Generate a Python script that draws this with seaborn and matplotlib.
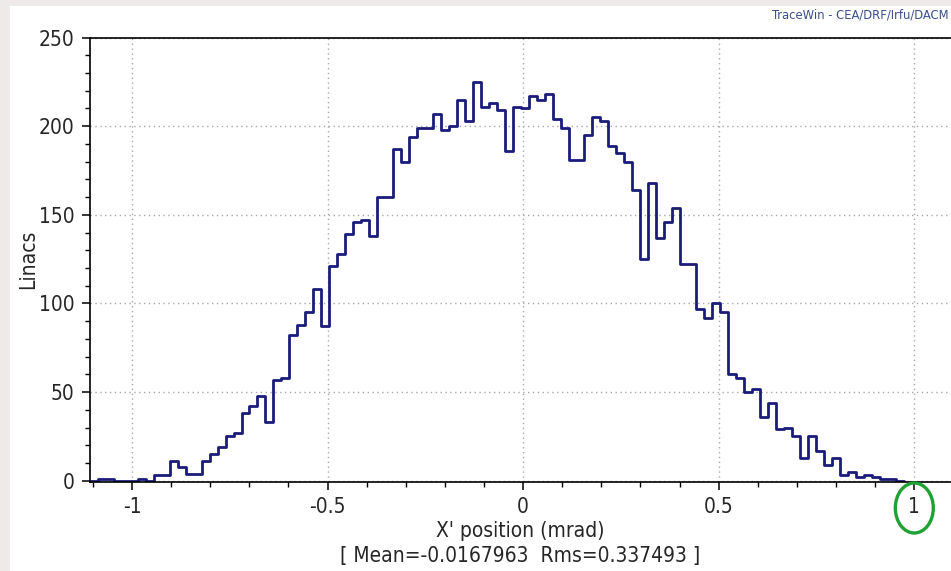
import numpy as np
import pandas as pd
import matplotlib
matplotlib.use("Agg")
import matplotlib.pyplot as plt
from matplotlib.patches import Ellipse, Rectangle
from matplotlib.ticker import MultipleLocator, FixedLocator, FixedFormatter
import seaborn as sns

# ---------------- data ----------------
bin_start = -1.1073
bin_width = 0.02039
counts = [0, 1, 1, 0, 0, 0, 1, 0, 3, 3,
          11, 8, 4, 4, 11, 15, 19, 25, 27, 38,
          42, 48, 33, 57, 58, 82, 88, 95, 108, 87,
          121, 128, 139, 146, 147, 138, 160, 160, 187, 180,
          194, 199, 199, 207, 198, 200, 215, 203, 225, 211,
          213, 209, 186, 211, 210, 217, 215, 218, 204, 199,
          181, 181, 195, 205, 203, 189, 185, 180, 164, 125,
          168, 137, 146, 154, 122, 122, 97, 92, 100, 95,
          60, 58, 50, 52, 36, 44, 29, 30, 25, 13,
          25, 17, 9, 13, 3, 5, 2, 3, 2, 1,
          1, 0]
x_ticks = [-1, -0.5, 0, 0.5, 1]
x_tick_labels = ["-1", "-0.5", "0", "0.5", "1"]
y_ticks = [0, 50, 100, 150, 200, 250]
y_tick_labels = ["0", "50", "100", "150", "200", "250"]
x_label = "X' position (mrad)"
stats_label = "[ Mean=-0.0167963  Rms=0.337493 ]"
y_label = "Linacs"
watermark = "TraceWin - CEA/DRF/Irfu/DACM"
marked_tick = 1

# ---------------- build ----------------
n = len(counts)
edges = bin_start + bin_width * np.arange(n + 1)
centers = (edges[:-1] + edges[1:]) / 2
df = pd.DataFrame({"x": centers, "count": counts})

sns.set_style("white")
plt.rcParams["font.family"] = ["DejaVu Sans"]
plt.rcParams["font.stretch"] = "condensed"
plt.rcParams["axes.unicode_minus"] = False

W, H = 951, 571
fig = plt.figure(figsize=(W / 100, H / 100), dpi=100, facecolor="#eeeaea")
fig.add_artist(Rectangle((10 / W, 0), 1, 1 - 6 / H, transform=fig.transFigure,
                         facecolor="white", edgecolor="none", zorder=-10))

ax = fig.add_axes([89.7 / W, (H - 481.7) / H, (W - 89.7) / W, (481.7 - 37.5) / H])
ax.set_facecolor("white")

sns.histplot(data=df, x="x", weights="count", bins=edges.tolist(), element="step",
             fill=False, color="#1b1b7a", linewidth=2.0, ax=ax)

ax.set_xlim(-1.108, 1.0938)
ax.set_ylim(-0.56, 250)

fs = 15
ax.xaxis.set_major_locator(FixedLocator(x_ticks))
ax.xaxis.set_major_formatter(FixedFormatter(x_tick_labels))
ax.yaxis.set_major_locator(FixedLocator(y_ticks))
ax.yaxis.set_major_formatter(FixedFormatter(y_tick_labels))
ax.xaxis.set_minor_locator(MultipleLocator(0.1))
ax.yaxis.set_minor_locator(MultipleLocator(10))
ax.tick_params(axis="both", which="major", direction="out", length=6, width=1.1,
               color="black", labelsize=fs, pad=5)
ax.tick_params(axis="both", which="minor", direction="out", length=3.5, width=1.0,
               color="black")
ax.tick_params(axis="x", which="both", bottom=True, top=False)
ax.tick_params(axis="y", which="both", left=True, right=False)

ax.grid(True, which="major", linestyle=(0, (1, 2.5)), color="#a8a8a8", linewidth=1.0)
ax.set_axisbelow(True)

for side in ["left", "bottom", "top"]:
    ax.spines[side].set_visible(True)
    ax.spines[side].set_color("black")
    ax.spines[side].set_linewidth(1.2)
ax.spines["right"].set_visible(False)

ax.set_ylabel(y_label, fontsize=fs)
ax.yaxis.label.set_va("center")
ax.yaxis.set_label_coords((28 - 89.7) / (W - 89.7), 0.5)

ax.set_xlabel(x_label + "\n" + stats_label, fontsize=fs, linespacing=1.3,
              multialignment="center")
ax.xaxis.label.set_va("top")
ax.xaxis.set_label_coords(0.5, (481.7 - 521) / (481.7 - 37.5))

fig.text(949 / W, 1 - 14.5 / H, watermark, ha="right", va="center",
         fontsize=9.3, color="#3a4f8a")

ell = Ellipse((marked_tick, (481.7 - 508) / (481.7 - 37.5)),
              width=38 / 391.3, height=50 / (481.7 - 37.5),
              transform=ax.get_xaxis_transform(), fill=False,
              edgecolor="#1fa133", linewidth=2.4, clip_on=False, zorder=5)
ax.add_patch(ell)

fig.savefig("out.png", dpi=100, facecolor=fig.get_facecolor())
